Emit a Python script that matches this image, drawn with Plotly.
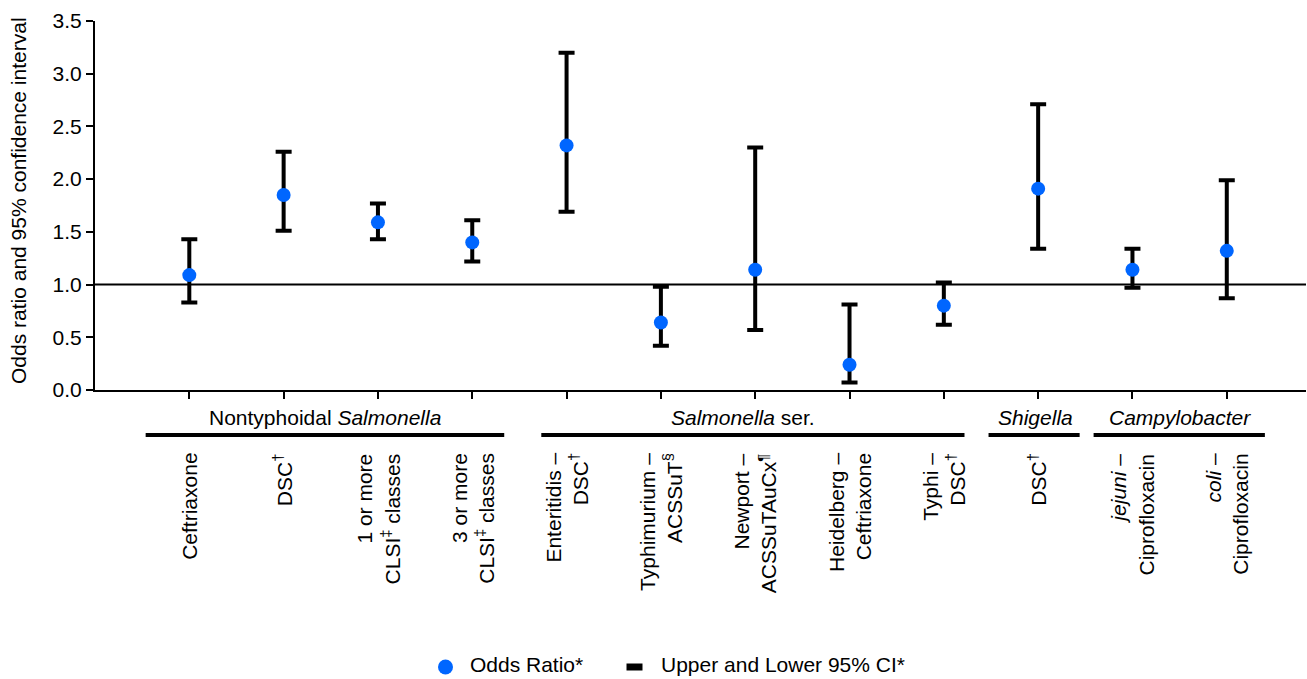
import plotly.graph_objects as go

# ---- data ----
categories = [
    "Ceftriaxone",
    "DSC<sup>†</sup>",
    "1 or more<br>CLSI<sup>‡</sup> classes",
    "3 or more<br>CLSI<sup>‡</sup> classes",
    "Enteritidis –<br>DSC<sup>†</sup>",
    "Typhimurium –<br>ACSSuT<sup>§</sup>",
    "Newport –<br>ACSSuTAuCx<sup>¶</sup>",
    "Heidelberg –<br>Ceftriaxone",
    "Typhi –<br>DSC<sup>†</sup>",
    "DSC<sup>†</sup>",
    "<i>jejuni</i> –<br>Ciprofloxacin",
    "<i>coli</i> –<br>Ciprofloxacin",
]
odds_ratio = [1.09, 1.85, 1.59, 1.40, 2.32, 0.64, 1.14, 0.24, 0.80, 1.91, 1.14, 1.32]
upper_ci = [1.43, 2.26, 1.77, 1.61, 3.20, 0.98, 2.30, 0.81, 1.02, 2.71, 1.34, 1.99]
lower_ci = [0.83, 1.51, 1.43, 1.22, 1.69, 0.42, 0.57, 0.07, 0.62, 1.34, 0.97, 0.87]
group_labels = ["Nontyphoidal <i>Salmonella</i>", "<i>Salmonella</i> ser.", "<i>Shigella</i>", "<i>Campylobacter</i>"]
legend_labels = ["Odds Ratio*", "Upper and Lower 95% CI*"]
y_ticks = [0.0, 0.5, 1.0, 1.5, 2.0, 2.5, 3.0, 3.5]

FONT = "Arial, Liberation Sans, sans-serif"
FS = 21
BLUE = "#0066FF"

# plot-area geometry in px (used to place legend/annotations in paper coords)
L, R, T, B = 95, 1, 21, 289
W, H = 1307 - L - R, 679 - T - B
def px_x(p):
    return (p - L) / W
def px_y(p):
    return (679 - B - p) / H

x = list(range(len(categories)))
err_plus = [u - o for u, o in zip(upper_ci, odds_ratio)]
err_minus = [o - l for o, l in zip(odds_ratio, lower_ci)]

fig = go.Figure()
fig.add_trace(go.Scatter(
    x=x, y=odds_ratio, mode="markers",
    marker=dict(color=BLUE, size=14),
    error_y=dict(type="data", array=err_plus, arrayminus=err_minus,
                 color="black", thickness=4, width=8),
    showlegend=False, hoverinfo="skip",
))

# reference line at 1.0
fig.add_shape(type="line", xref="paper", yref="y", x0=0, x1=1, y0=1, y1=1,
              line=dict(color="black", width=2))

# category labels
for xi, lab in zip(x, categories):
    fig.add_annotation(x=xi, y=px_y(451), xref="x", yref="paper", text=lab,
                       textangle=-90, showarrow=False, align="right",
                       xanchor="center", yanchor="top",
                       font=dict(family=FONT, size=FS, color="black"))

# group labels and underlines
group_centers = [1.44, 5.875, 8.97, 10.50]
group_spans = [(-0.463, 3.339), (3.732, 8.219), (8.474, 9.44), (9.588, 11.404)]
for lab, cx, (a, b) in zip(group_labels, group_centers, group_spans):
    fig.add_annotation(x=cx, y=px_y(417), xref="x", yref="paper", text=lab,
                       showarrow=False, xanchor="center", yanchor="middle",
                       font=dict(family=FONT, size=FS, color="black"))
    fig.add_shape(type="line", xref="x", yref="paper", x0=a, x1=b,
                  y0=px_y(435), y1=px_y(435), line=dict(color="black", width=4))

# y title
fig.add_annotation(x=px_x(18), y=px_y(201), xref="paper", yref="paper",
                   text="Odds ratio and 95% confidence interval", textangle=-90,
                   showarrow=False, xanchor="center", yanchor="middle",
                   font=dict(family=FONT, size=FS, color="black"))

# legend (drawn manually)
LY = 664
fig.add_shape(type="circle", xref="paper", yref="paper",
              xsizemode="pixel", ysizemode="pixel",
              xanchor=px_x(445.5), yanchor=px_y(LY + 3),
              x0=-7.5, x1=7.5, y0=-7.5, y1=7.5,
              fillcolor=BLUE, line=dict(width=0))
fig.add_shape(type="rect", xref="paper", yref="paper",
              xsizemode="pixel", ysizemode="pixel",
              xanchor=px_x(634.5), yanchor=px_y(LY + 3),
              x0=-8, x1=8, y0=-3.5, y1=3.5,
              fillcolor="black", line=dict(width=0))
for lab, lx in zip(legend_labels, [468, 659]):
    fig.add_annotation(x=px_x(lx), y=px_y(LY), xref="paper", yref="paper", text=lab,
                       showarrow=False, xanchor="left", yanchor="middle",
                       font=dict(family=FONT, size=FS, color="black"))

fig.update_layout(
    width=1307, height=679,
    margin=dict(l=L, r=R, t=T, b=B, autoexpand=False),
    plot_bgcolor="white", paper_bgcolor="white",
    font=dict(family=FONT, size=FS, color="black"),
    showlegend=False,
    xaxis=dict(range=[-1.0, 11.84], tickvals=x, showticklabels=False,
               ticks="outside", ticklen=7, tickwidth=2, tickcolor="black",
               showline=True, linecolor="black", linewidth=2, showgrid=False,
               zeroline=False, fixedrange=True),
    yaxis=dict(range=[0, 3.5], tickvals=y_ticks, tickformat=".1f",
               ticks="outside", ticklen=7, tickwidth=2, tickcolor="black",
               showline=True, linecolor="black", linewidth=2, showgrid=False,
               zeroline=False, tickfont=dict(family=FONT, size=FS, color="black")),
)

fig.write_html("out.html")
